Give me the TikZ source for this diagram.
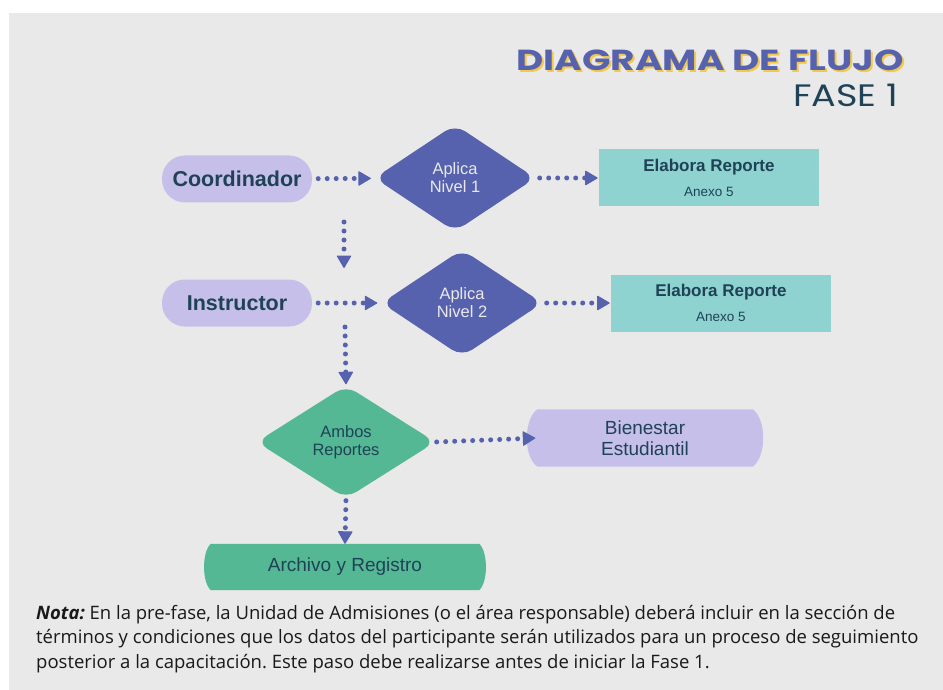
\documentclass[tikz,border=0pt]{standalone}
\usepackage{fontspec}
\setmainfont{Liberation Sans}
\newfontfamily\titlefont{Poppins}
\newfontfamily\notefont{Open Sans}
\usepackage{xcolor}
\usetikzlibrary{shapes.geometric}
\usetikzlibrary{positioning}
\usetikzlibrary{arrows.meta}
\usetikzlibrary{backgrounds}

\definecolor{fondo}{HTML}{E9E9E9}
\definecolor{lila}{HTML}{C6BFEA}
\definecolor{azul}{HTML}{5762AF}
\definecolor{turquesa}{HTML}{8ED3D0}
\definecolor{verde}{HTML}{55B895}
\definecolor{tinta}{HTML}{1F4257}
\definecolor{sombra}{HTML}{F2C94C}

\newcommand{\titulotexto}{DIAGRAMA DE FLUJO}
\newcommand{\reportetexto}{{\bfseries\fontsize{17}{17}\selectfont Elabora Reporte}\\[11pt]{\fontsize{13.5}{14}\selectfont Anexo 5}}

\begin{document}
\frenchspacing
\begin{tikzpicture}[x=1pt, y=-1pt,
  actor/.style={rectangle, rounded corners=23pt, fill=lila, minimum width=150pt,
    minimum height=47pt, text=tinta, font=\bfseries\fontsize{21.5}{21.5}\selectfont},
  decision/.style={diamond, rounded corners=12pt, fill=azul, inner sep=0pt,
    minimum width=161pt, minimum height=107pt, align=center, text=fondo,
    font=\fontsize{16.5}{18}\selectfont},
  reporte/.style={rectangle, fill=turquesa, minimum width=220pt, minimum height=57pt,
    align=center, text=tinta},
  terminal/.style={rectangle, inner sep=0pt, align=center, text=tinta,
    font=\fontsize{19}{21}\selectfont},
  flecha/.style={draw=azul, line width=5pt, dash pattern=on 0pt off 9pt, line cap=round,
    -{Triangle[round, line width=1pt, length=13pt, width=15pt, fill=azul]}},
]
  \useasboundingbox (0,0) rectangle (943,690);

  % Title
  \node[anchor=base east, text=azul, inner sep=0pt,
    font=\titlefont\bfseries\fontsize{29}{29}\selectfont] (titulo) at (904,71)
    {\scalebox{1.29}[1]{\rlap{\hspace{1.6pt}\raisebox{-2pt}{\textcolor{sombra}{\titulotexto}}}\titulotexto}};
  \node[anchor=base east, text=tinta, inner sep=0pt,
    font=\titlefont\fontsize{31}{31}\selectfont] (fase) at (898,107)
    {\scalebox{1.18}[1]{FASE 1}};

  % Define nodes
  \node[actor] (coord) at (237,179) {Coordinador};
  \node[decision] (nivel1) at (455,178) {Aplica\\Nivel 1};
  \node[reporte, right=63pt of nivel1] (rep1) {\reportetexto};

  \node[actor] (instr) at (237,303) {Instructor};
  \node[decision] (nivel2) at (462,303) {Aplica\\Nivel 2};
  \node[reporte, right=68pt of nivel2] (rep2) {\reportetexto};

  \node[decision, fill=verde, text=tinta, minimum width=179pt, minimum height=113pt]
    (ambos) at (346,442) {Ambos\\Reportes};
  \node[terminal, minimum width=215pt, minimum height=57pt] (bien) at (645,438)
    {Bienestar\\Estudiantil};
  \node[terminal, minimum width=268pt, minimum height=46pt] (archivo) at (345,567)
    {Archivo y Registro};

  \coordinate (c1) at (344,222);
  \coordinate (c2) at (344,268);
  \coordinate (c3) at (345,327);

  % Connect nodes
  \draw[flecha, shorten <=6pt, shorten >=4pt] (coord) -- (nivel1);
  \draw[flecha, shorten <=4pt, shorten >=1pt] (nivel1) -- (rep1);
  \draw[flecha, shorten <=6pt, shorten >=4pt] (instr) -- (nivel2);
  \draw[flecha, shorten <=4pt, shorten >=1pt] (nivel2) -- (rep2);
  \draw[flecha] (c1) -- (c2);
  \draw[flecha, shorten >=1pt] (c3) -- (ambos.north);
  \draw[flecha, shorten <=1pt, shorten >=2pt] (ambos.east) -- (bien.west);
  \draw[flecha, shorten <=2pt, shorten >=0pt] (ambos.south) -- (archivo.north);

  % Note
  \node[anchor=north west, align=left, text=black!90, inner sep=0pt,
    font=\notefont\fontsize{18.5}{24.5}\selectfont] (nota) at (36,605)
    {\textbf{\textit{Nota:}} En la pre-fase, la Unidad de Admisiones (o el área responsable) deberá incluir en la sección de\\
     términos y condiciones que los datos del participante serán utilizados para un proceso de seguimiento\\
     posterior a la capacitación. Este paso debe realizarse antes de iniciar la Fase 1.};

  \begin{pgfonlayer}{background}
    \fill[fondo] (9,13) rectangle (943,690);
    \fill[lila] (bien.north west) .. controls +(-14,10) and +(-14,-10) .. (bien.south west)
      -- (bien.south east) .. controls +(14,-10) and +(14,10) .. (bien.north east) -- cycle;
    \fill[verde] (archivo.north west) .. controls +(-9,8) and +(-9,-8) .. (archivo.south west)
      -- (archivo.south east) .. controls +(9,-8) and +(9,8) .. (archivo.north east) -- cycle;
  \end{pgfonlayer}
\end{tikzpicture}
\end{document}
